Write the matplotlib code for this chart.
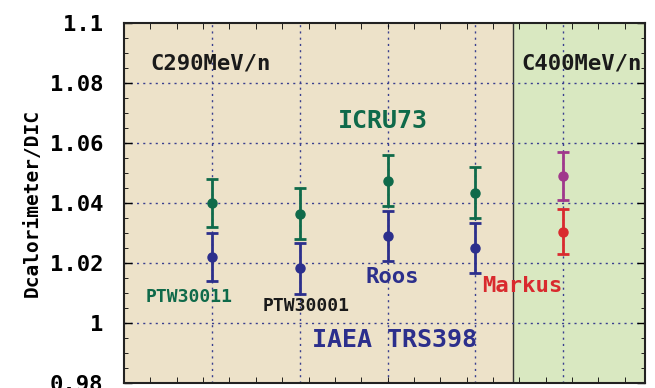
import matplotlib
matplotlib.use("Agg")
import matplotlib.pyplot as plt
from matplotlib.ticker import MultipleLocator

# data
positions = [1, 2, 3, 4]
icru73 = [1.040, 1.0365, 1.0475, 1.0435]
icru73_err = [0.008, 0.0085, 0.0085, 0.0085]
trs398 = [1.022, 1.0183, 1.029, 1.025]
trs398_err = [0.008, 0.0085, 0.0083, 0.0083]
c400_pos = [5]
c400_icru = [1.049]
c400_icru_err = [0.008]
c400_markus = [1.0305]
c400_markus_err = [0.0075]

yticks = [0.98, 1.0, 1.02, 1.04, 1.06, 1.08, 1.1]
ytick_labels = ["0.98", "1", "1.02", "1.04", "1.06", "1.08", "1.1"]

green = "#0f6a4a"
blue = "#2c2f8c"
magenta = "#a0388c"
red = "#d92a2e"
mono = "DejaVu Sans Mono"

fig = plt.figure(figsize=(6.55, 3.88), dpi=100)
ax = fig.add_axes([124/655, 5/388, 521/655, 360/388])

ax.set_xlim(0.0, 5.93)
ax.set_ylim(0.98, 1.1)
ax.axvspan(0.0, 4.43, color="#ede2c9", zorder=0)
ax.axvspan(4.43, 5.93, color="#d9e8c1", zorder=0)
ax.axvline(4.43, color="#333333", lw=1, zorder=1)

# grid
for y in yticks[1:-1]:
    ax.axhline(y, color="#3a3f8f", lw=1, ls=(0, (1.5, 3)), zorder=1)
for x in [1, 2, 3, 4, 5]:
    ax.axvline(x, color="#3a3f8f", lw=1, ls=(0, (1.5, 3)), zorder=1)

ekw = dict(fmt="o", ms=6.5, lw=2, capsize=4.5, capthick=2, zorder=3)
ax.errorbar(positions, icru73, yerr=icru73_err, color=green, **ekw)
ax.errorbar(positions, trs398, yerr=trs398_err, color=blue, **ekw)
ax.errorbar(c400_pos, c400_icru, yerr=c400_icru_err, color=magenta, **ekw)
ax.errorbar(c400_pos, c400_markus, yerr=c400_markus_err, color=red, **ekw)

tkw = dict(fontfamily=mono, fontweight="bold", zorder=4, va="center")
ax.text(0.3, 1.0865, "C290MeV/n", fontsize=16, color="#1a1a1a", **tkw)
ax.text(4.52, 1.0865, "C400MeV/n", fontsize=16, color="#1a1a1a", **tkw)
ax.text(2.95, 1.0673, "ICRU73", fontsize=18, color=green, ha="center", **tkw)
ax.text(0.25, 1.0088, "PTW30011", fontsize=13, color=green, **tkw)
ax.text(1.58, 1.0057, "PTW30001", fontsize=13, color="#1a1a1a", **tkw)
ax.text(2.75, 1.0153, "Roos", fontsize=16, color=blue, **tkw)
ax.text(4.08, 1.0125, "Markus", fontsize=16, color=red, **tkw)
ax.text(2.136, 0.9943, "IAEA TRS398", fontsize=18, color=blue, **tkw)

ax.set_yticks(yticks)
ax.set_yticklabels(ytick_labels, fontfamily=mono, fontweight="bold", fontsize=16)
ax.yaxis.set_minor_locator(MultipleLocator(0.005))
ax.set_xticks([])
ax.xaxis.set_minor_locator(MultipleLocator(0.3))
ax.tick_params(axis="both", which="both", direction="in", top=True, right=True)
ax.tick_params(axis="y", which="major", length=6, width=1, pad=15)
ax.tick_params(axis="y", which="minor", length=3)
ax.tick_params(axis="x", which="minor", length=4)
for s in ax.spines.values():
    s.set_linewidth(1.5)
    s.set_color("#222222")

ax.set_ylabel("Dcalorimeter/DIC", fontfamily=mono, fontweight="bold", fontsize=14, labelpad=6)

fig.savefig("out.png", dpi=100)
